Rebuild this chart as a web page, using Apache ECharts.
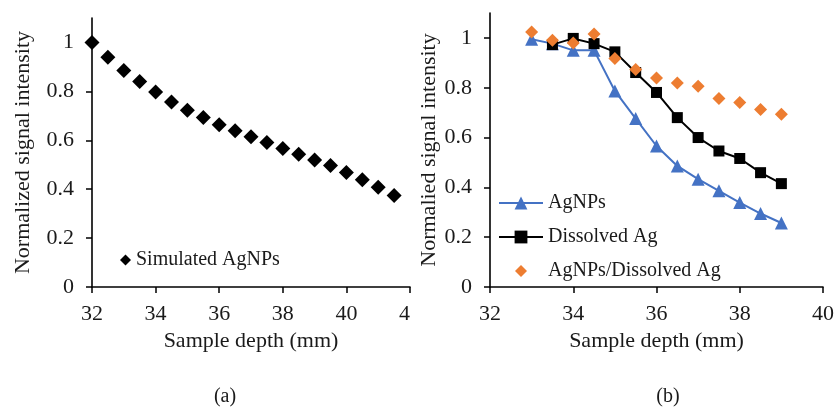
<!DOCTYPE html>
<html>
<head>
<meta charset="utf-8">
<script src="https://cdn.jsdelivr.net/npm/echarts@6/dist/echarts.min.js"></script>
<style>html,body{margin:0;padding:0;background:#fff}#c{width:837px;height:408px}</style>
</head>
<body>
<div id="c"></div>
<script>
// Panel (a)
const depthA = [32,32.5,33,33.5,34,34.5,35,35.5,36,36.5,37,37.5,38,38.5,39,39.5,40,40.5,41,41.5];
const simulated = [1.0,0.940,0.885,0.840,0.797,0.757,0.723,0.693,0.663,0.639,0.614,0.591,0.566,0.543,0.519,0.497,0.468,0.439,0.408,0.374];
// Panel (b)
const depthB = [33,33.5,34,34.5,35,35.5,36,36.5,37,37.5,38,38.5,39];
const agnps = [0.995,0.977,0.950,0.950,0.787,0.676,0.566,0.486,0.433,0.386,0.339,0.295,0.257];
const depthDis = [33.5,34,34.5,35,35.5,36,36.5,37,37.5,38,38.5,39];
const dissolved = [0.973,0.998,0.977,0.944,0.861,0.781,0.680,0.600,0.546,0.516,0.459,0.415];
const ratio = [1.024,0.991,0.980,1.016,0.917,0.873,0.839,0.819,0.806,0.757,0.741,0.713,0.694];
const yTicks = [0,0.2,0.4,0.6,0.8,1];

const FONT = 'Liberation Serif';
const TXT = '#1a1a1a';
const pair = (xs, ys) => xs.map((x, i) => [x, ys[i]]);

function yAxis(idx, name, gap) {
  return {
    type: 'value', gridIndex: idx, min: 0, max: 1.1,
    name: name, nameLocation: 'middle', nameGap: gap,
    nameTextStyle: {fontFamily: FONT, fontSize: 22, color: TXT},
    axisLine: {show: true, lineStyle: {color: '#000', width: 1.6}},
    axisTick: {show: true, length: 6, customValues: yTicks, lineStyle: {color: '#000', width: 1.5}},
    axisLabel: {customValues: yTicks, margin: 18, fontFamily: FONT, fontSize: 22, color: TXT,
      formatter: v => String(+v.toFixed(1))},
    splitLine: {show: false}
  };
}
function xAxis(idx, max, gap, fmt) {
  return {
    type: 'value', gridIndex: idx, min: 32, max: max, interval: 2,
    name: 'Sample depth (mm)', nameLocation: 'middle', nameGap: gap,
    nameTextStyle: {fontFamily: FONT, fontSize: 22, color: TXT},
    axisLine: {show: true, onZero: false, lineStyle: {color: '#000', width: 1.6}},
    axisTick: {show: true, length: 6, lineStyle: {color: '#000', width: 1.5}},
    axisLabel: {margin: 16, fontFamily: FONT, fontSize: 22, color: TXT, formatter: fmt,
      showMaxLabel: true, rich: {cut: {fontFamily: FONT, fontSize: 22, color: TXT, padding: [0, 11, 0, 0]}}},
    splitLine: {show: false}
  };
}

const chart = echarts.init(document.getElementById('c'), null, {renderer: 'canvas'});
chart.setOption({
  backgroundColor: '#fff',
  animation: false,
  title: [
    {text: '(a)', left: 225, top: 387, padding: 0, textAlign: 'center', textStyle: {fontFamily: FONT, fontSize: 20, fontWeight: 'normal', color: TXT}},
    {text: '(b)', left: 668, top: 387, padding: 0, textAlign: 'center', textStyle: {fontFamily: FONT, fontSize: 20, fontWeight: 'normal', color: TXT}}
  ],
  grid: [
    {left: 92, top: 18, width: 318, height: 269},
    {left: 490, top: 13, width: 333, height: 274}
  ],
  xAxis: [
    xAxis(0, 42, 39, v => v === 42 ? '{cut|4}' : String(v)),
    xAxis(1, 40, 34, v => String(v))
  ],
  yAxis: [
    yAxis(0, 'Normalized signal intensity', 58),
    yAxis(1, 'Normalied signal intensity', 48)
  ],
  legend: [
    {data: ['Simulated AgNPs'], left: 120, top: 250, orient: 'vertical', padding: 0,
     itemWidth: 11, itemHeight: 11, itemGap: 5,
     textStyle: {fontFamily: FONT, fontSize: 20, color: TXT}},
    {data: ['AgNPs', 'Dissolved Ag',
            {name: 'AgNPs/Dissolved Ag', icon: 'path://M0,8 L0,8 M44,8 L44,8 M22,2 L28,8 L22,14 L16,8 Z'}],
     left: 498, top: 192, orient: 'vertical', padding: 0,
     itemWidth: 44, itemHeight: 16, itemGap: 12,
     textStyle: {fontFamily: FONT, fontSize: 20, color: TXT, lineHeight: 22}}
  ],
  series: [
    {name: 'Simulated AgNPs', type: 'scatter', xAxisIndex: 0, yAxisIndex: 0,
     data: pair(depthA, simulated), symbol: 'diamond', symbolSize: 15,
     itemStyle: {color: '#000', opacity: 1}},
    {name: 'AgNPs', type: 'line', xAxisIndex: 1, yAxisIndex: 1,
     data: pair(depthB, agnps), symbol: 'triangle', symbolSize: 13,
     lineStyle: {color: '#4472C4', width: 2}, itemStyle: {color: '#4472C4', opacity: 1}},
    {name: 'Dissolved Ag', type: 'line', xAxisIndex: 1, yAxisIndex: 1,
     data: pair(depthDis, dissolved), symbol: 'rect', symbolSize: 11,
     lineStyle: {color: '#000', width: 2}, itemStyle: {color: '#000', opacity: 1}},
    {name: 'AgNPs/Dissolved Ag', type: 'scatter', xAxisIndex: 1, yAxisIndex: 1,
     data: pair(depthB, ratio), symbol: 'diamond', symbolSize: 13,
     itemStyle: {color: '#ED7D31', opacity: 1}, z: 3}
  ]
});
</script>
</body>
</html>
